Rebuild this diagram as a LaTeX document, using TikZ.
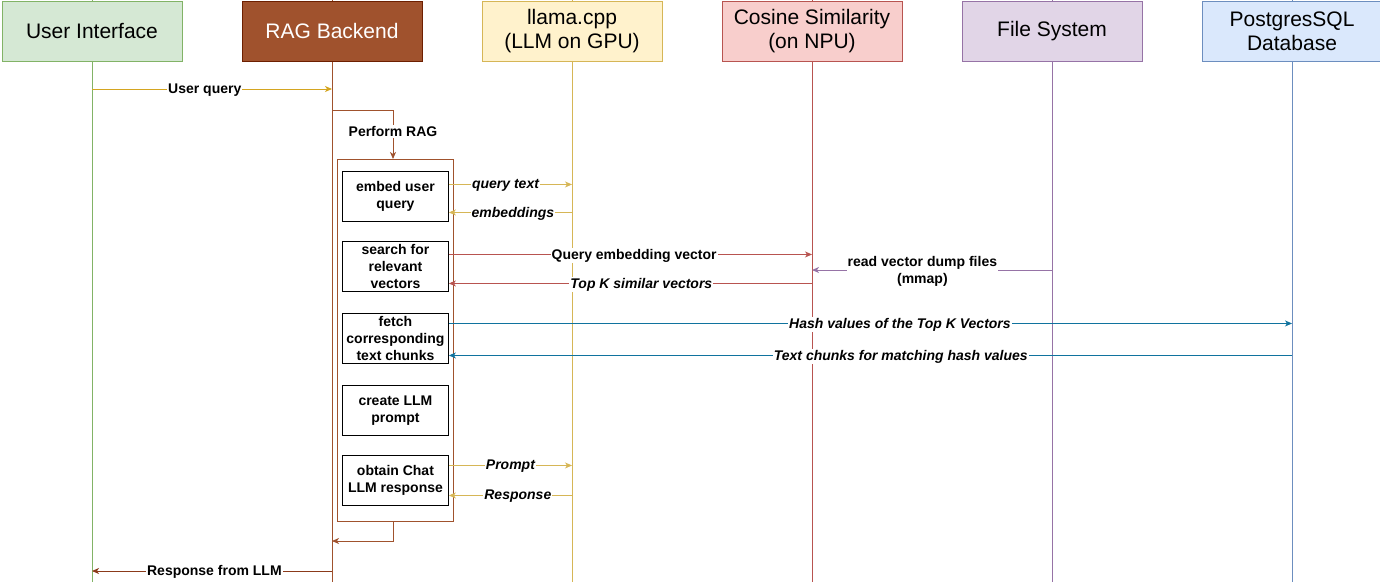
\documentclass[tikz,border=0pt]{standalone}
\usepackage{fontspec}
\setmainfont{Liberation Sans}
\usetikzlibrary{arrows.meta}
\definecolor{uiF}{HTML}{D5E8D4}\definecolor{uiD}{HTML}{82B366}
\definecolor{ragF}{HTML}{A0522D}\definecolor{ragD}{HTML}{6D1F00}
\definecolor{llF}{HTML}{FFF2CC}\definecolor{llD}{HTML}{D6B656}
\definecolor{csF}{HTML}{F8CECC}\definecolor{csD}{HTML}{B85450}
\definecolor{fsF}{HTML}{E1D5E7}\definecolor{fsD}{HTML}{9673A6}
\definecolor{pgF}{HTML}{DAE8FC}\definecolor{pgD}{HTML}{6C8EBF}
\definecolor{gold}{HTML}{D4A520}
\definecolor{blueA}{HTML}{10739E}
\definecolor{brownA}{HTML}{8B3A1A}
\tikzset{
  head/.style={draw=#1, line width=0.8pt, minimum width=180pt, minimum height=60pt, inner sep=0pt,
     font=\fontsize{21}{24}\selectfont, align=center, anchor=north},
  life/.style={draw=#1, line width=0.8pt},
  stepbox/.style={draw=black, line width=0.9pt, minimum width=106pt, minimum height=50pt, inner sep=0pt,
     font=\bfseries\fontsize{14}{17}\selectfont, align=center, anchor=north west},
  msg/.style={draw=#1, line width=0.9pt, -{Stealth[length=7pt,width=6pt,inset=2pt]}},
  lbl/.style={fill=white, inner sep=1pt, font=\bfseries\fontsize{14}{17}\selectfont, align=center, yshift=-1pt},
  ilbl/.style={lbl, font=\bfseries\itshape\fontsize{14}{17}\selectfont},
}
\begin{document}
\begin{tikzpicture}[x=1pt,y=-1pt]
\useasboundingbox (0,0) rectangle (1380,582);
% lifelines
\coordinate (uiT) at (92,0);   \coordinate (uiB) at (92,582);
\coordinate (rgT) at (332,0);  \coordinate (rgB) at (332,582);
\coordinate (llT) at (572,0);  \coordinate (llB) at (572,582);
\coordinate (csT) at (812,0);  \coordinate (csB) at (812,582);
\coordinate (fsT) at (1052,0); \coordinate (fsB) at (1052,582);
\coordinate (pgT) at (1292,0); \coordinate (pgB) at (1292,582);
\draw[life=uiD] (uiT) -- (uiB);
\draw[life=ragF] (rgT) -- (rgB);
\draw[life=llD] (llT) -- (llB);
\draw[life=csD] (csT) -- (csB);
\draw[life=fsD] (fsT) -- (fsB);
\draw[life=pgD] (pgT) -- (pgB);
% headers
\node[head=uiD, fill=uiF] (ui) at (92,1) {User Interface};
\node[head=ragD, fill=ragF, text=white] (rag) at (332,1) {RAG Backend};
\node[head=llD, fill=llF] (ll) at (572,1) {llama.cpp\\(LLM on GPU)};
\node[head=csD, fill=csF] (cs) at (812,1) {Cosine Similarity\\(on NPU)};
\node[head=fsD, fill=fsF] (fs) at (1052,1) {File System};
\node[head=pgD, fill=pgF] (pg) at (1292,1) {PostgresSQL\\Database};
% activation
\node[draw=ragF, line width=0.9pt, minimum width=116pt, minimum height=362pt, inner sep=0pt, anchor=north west] (act) at (337,159) {};
\node[stepbox] (embed) at (342,171) {embed user\\query};
\node[stepbox] (search) at (342,241) {search for\\relevant\\vectors};
\node[stepbox] (fetch) at (342,313) {fetch\\corresponding\\text chunks};
\node[stepbox] (create) at (342,385) {create LLM\\prompt};
\node[stepbox] (obtain) at (342,455) {obtain Chat\\LLM response};
% user query
\coordinate (uq1) at (92,89); \coordinate (uq2) at (332,89);
\draw[msg=gold] (uq1) -- node[lbl, pos=0.47]{User query} (uq2);
% perform RAG
\coordinate (pr1) at (332,110);
\draw[msg=ragF] (pr1) -| node[lbl, pos=0.71]{Perform RAG} (act.north -| 393,0);
% return
\coordinate (rt2) at (332,541);
\draw[msg=ragF] (act.south -| 393,0) |- (rt2);
% embed
\draw[msg=llD] ([yshift=12pt]embed.east) -- node[ilbl, pos=0.46]{query text} ([yshift=12pt]embed.east -| llT);
\draw[msg=llD] ([yshift=-16pt]embed.east -| llT) -- node[ilbl, pos=0.48]{embeddings} ([yshift=-16pt]embed.east);
% search
\draw[msg=csD] ([yshift=12pt]search.east) -- node[lbl, pos=0.51]{Query embedding vector} ([yshift=12pt]search.east -| csT);
\draw[msg=csD] ([yshift=-17pt]search.east -| csT) -- node[ilbl, pos=0.47]{Top K similar vectors} ([yshift=-17pt]search.east);
\coordinate (rv1) at (1052,270); \coordinate (rv2) at (812,270);
\draw[msg=fsD] (rv1) -- node[lbl, pos=0.54]{read vector dump files\\(mmap)} (rv2);
% fetch
\draw[msg=blueA] ([yshift=15pt]fetch.east) -- node[ilbl, pos=0.535]{Hash values of the Top K Vectors} ([yshift=15pt]fetch.east -| pgT);
\draw[msg=blueA] ([yshift=-17pt]fetch.east -| pgT) -- node[ilbl, pos=0.464]{Text chunks for matching hash values} ([yshift=-17pt]fetch.east);
% obtain
\draw[msg=llD] ([yshift=15pt]obtain.east) -- node[ilbl, pos=0.5]{Prompt} ([yshift=15pt]obtain.east -| llT);
\draw[msg=llD] ([yshift=-15pt]obtain.east -| llT) -- node[ilbl, pos=0.44]{Response} ([yshift=-15pt]obtain.east);
% response from LLM
\coordinate (rl1) at (332,571); \coordinate (rl2) at (92,571);
\draw[msg=brownA] (rl1) -- node[lbl, pos=0.49]{Response from LLM} (rl2);
\end{tikzpicture}
\end{document}
